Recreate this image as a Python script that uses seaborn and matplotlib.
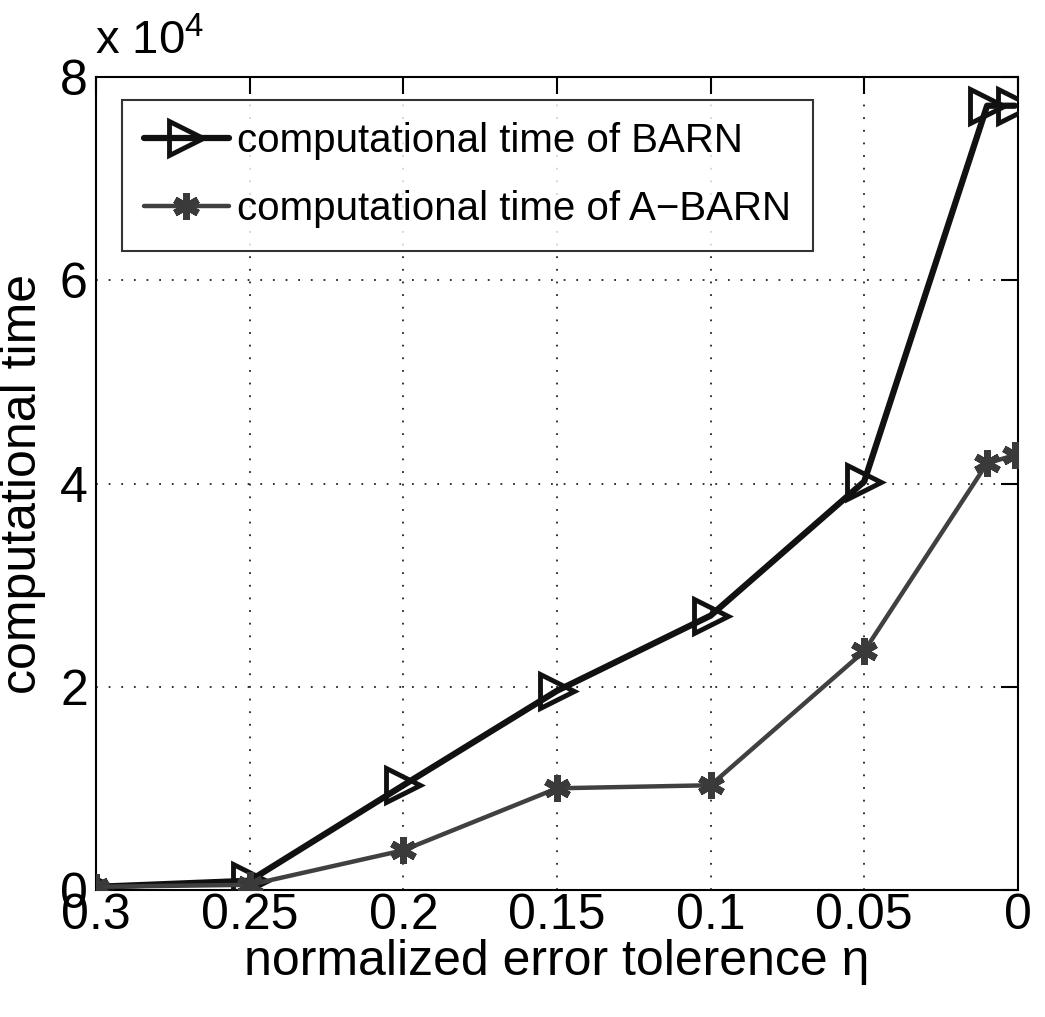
import matplotlib
matplotlib.use("Agg")
import matplotlib.pyplot as plt
import seaborn as sns
import pandas as pd
from matplotlib.ticker import FuncFormatter

eta = [0.3, 0.25, 0.2, 0.15, 0.1, 0.05, 0.01, 0.001]
barn = [300, 900, 10300, 19600, 27000, 40200, 77200, 77200]
abarn = [300, 500, 3900, 10000, 10300, 23500, 42000, 42800]
x_ticks = [0.3, 0.25, 0.2, 0.15, 0.1, 0.05, 0]
x_ticklabels = ["0.3", "0.25", "0.2", "0.15", "0.1", "0.05", "0"]
y_ticks = [0, 20000, 40000, 60000, 80000]
series_names = ["computational time of BARN", "computational time of A\u2212BARN"]

sns.set_theme(style="white")
plt.rcParams['font.family'] = ['Liberation Sans', 'DejaVu Sans']
plt.rcParams['mathtext.fontset'] = 'custom'
plt.rcParams['mathtext.rm'] = 'Liberation Sans'
plt.rcParams['text.color'] = 'black'
plt.rcParams['axes.labelcolor'] = 'black'
plt.rcParams['xtick.color'] = 'black'
plt.rcParams['ytick.color'] = 'black'

df = pd.concat([
    pd.DataFrame({"eta": eta, "time": barn, "series": series_names[0]}),
    pd.DataFrame({"eta": eta, "time": abarn, "series": series_names[1]}),
])

fig = plt.figure(figsize=(10.45, 10.17), dpi=100)
ax = fig.add_axes([0.092, 0.125, 0.882, 0.799])

sns.lineplot(data=df[df.series == series_names[0]], x="eta", y="time", ax=ax,
             color="#111111", linewidth=4.5, marker=">", markersize=24,
             markerfacecolor="none", markeredgecolor="#111111", markeredgewidth=3.5,
             label=series_names[0], zorder=3)
sns.lineplot(data=df[df.series == series_names[1]], x="eta", y="time", ax=ax,
             color="#404040", linewidth=3.2, marker=(6, 2, 0), markersize=19,
             markeredgecolor="#3a3a3a", markeredgewidth=5,
             label=series_names[1], zorder=4)

ax.set_xlim(0.3, 0)
ax.set_ylim(0, 80000)
ax.set_xticks(x_ticks)
ax.set_xticklabels(x_ticklabels)
ax.set_yticks(y_ticks)
ax.yaxis.set_major_formatter(FuncFormatter(lambda v, p: f"{v/1e4:g}"))

ax.grid(True, linestyle=(0, (1, 6)), color="#222222", linewidth=1.3)
for s in ax.spines.values():
    s.set_color("black")
    s.set_linewidth(1.5)
ax.tick_params(axis="both", which="major", direction="in", length=12, width=1.5,
               labelsize=36, top=True, right=True, colors="black", pad=6)
ax.tick_params(axis="x", pad=2)

ax.set_xlabel("normalized error tolerence \u03b7", fontsize=36, labelpad=0)
ax.set_ylabel("computational time", fontsize=36, labelpad=10)

fig.text(0.091, 0.937, r"x 10$^{4}$", fontsize=34, ha="left", va="bottom")

leg = ax.legend(loc="upper left", bbox_to_anchor=(0.028, 0.972), fontsize=29,
                frameon=True, fancybox=False, handlelength=2.1, handletextpad=0.2,
                borderpad=0.55, labelspacing=0.75, borderaxespad=0)
leg.get_frame().set_edgecolor("black")
leg.get_frame().set_linewidth(1.5)
for t in leg.get_texts():
    t.set_color("black")

fig.savefig("out.png", dpi=100, facecolor="white")
